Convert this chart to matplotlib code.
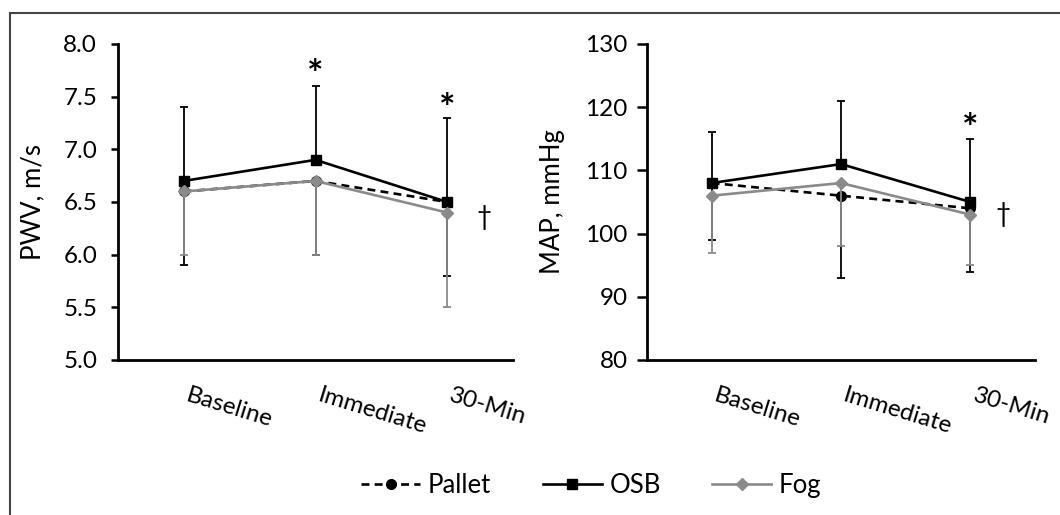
import matplotlib
matplotlib.use("Agg")
import matplotlib.pyplot as plt
from matplotlib.lines import Line2D
from matplotlib.patches import Rectangle

plt.rcParams['font.family'] = ['Lato', 'DejaVu Sans']

categories = ["Baseline", "Immediate", "30-Min"]
series = ["Pallet", "OSB", "Fog"]

# PWV, m/s
pwv_pallet = [6.6, 6.7, 6.5]
pwv_osb = [6.7, 6.9, 6.5]
pwv_fog = [6.6, 6.7, 6.4]
pwv_pallet_sd = [0.7, 0.7, 0.7]
pwv_osb_sd = [0.7, 0.7, 0.8]
pwv_fog_sd = [0.6, 0.7, 0.9]

# MAP, mmHg
map_pallet = [108, 106, 104]
map_osb = [108, 111, 105]
map_fog = [106, 108, 103]
map_pallet_sd = [9, 13, 10]
map_osb_sd = [8, 10, 10]
map_fog_sd = [9, 10, 8]

pwv_ticks = [5.0, 5.5, 6.0, 6.5, 7.0, 7.5, 8.0]
map_ticks = [80, 90, 100, 110, 120, 130]

GRAY = "#8a8a8a"
FS = 17.5

fig = plt.figure(figsize=(10.6, 5.15), dpi=100)

# outer frame (left and top edges visible)
fig.add_artist(Rectangle((10/1060, -0.1), 1.2, (515-13)/515 + 0.1,
                         transform=fig.transFigure, fill=False,
                         edgecolor="#444444", linewidth=1.5))

ax1 = fig.add_axes([118/1060, (515-360)/515, 395/1060, 316/515])
ax2 = fig.add_axes([647/1060, (515-360)/515, 388/1060, 316/515])

x = list(range(len(categories)))


def draw(ax, pallet, osb, fog, psd, osd, fsd):
    lw = 1.9
    elw = 1.3
    cs = 3.2
    # Pallet: lower error bars, black dashed line, circles
    ax.errorbar(x, pallet, yerr=[psd, [0]*3], color="black", ecolor="black",
                elinewidth=elw, capsize=cs, capthick=elw, linestyle=(0, (3, 2)),
                linewidth=lw, marker="o", markersize=7, zorder=3)
    # OSB: upper error bars, black solid line, squares
    ax.errorbar(x, osb, yerr=[[0]*3, osd], color="black", ecolor="black",
                elinewidth=elw, capsize=cs, capthick=elw, linestyle="-",
                linewidth=lw, marker="s", markersize=7, zorder=4)
    # Fog: lower error bars, gray solid line, diamonds
    ax.errorbar(x, fog, yerr=[fsd, [0]*3], color=GRAY, ecolor=GRAY,
                elinewidth=elw, capsize=cs, capthick=elw, linestyle="-",
                linewidth=lw, marker="D", markersize=6.5, zorder=5)
    ax.set_xlim(-0.5, 2.5)
    ax.set_xticks(x)
    ax.set_xticklabels(categories, rotation=-17, ha="left", va="top",
                       fontsize=FS)
    ax.tick_params(axis="x", length=0, pad=18)
    for s in ("top", "right"):
        ax.spines[s].set_visible(False)
    for s in ("left", "bottom"):
        ax.spines[s].set_linewidth(2.0)
        ax.spines[s].set_color("black")
    ax.tick_params(axis="y", direction="out", length=5, width=1.8,
                   labelsize=FS)


draw(ax1, pwv_pallet, pwv_osb, pwv_fog, pwv_pallet_sd, pwv_osb_sd, pwv_fog_sd)
ax1.set_ylim(5.0, 8.0)
ax1.set_yticks(pwv_ticks)
ax1.set_yticklabels([f"{v:.1f}" for v in pwv_ticks])
ax1.tick_params(axis="y", pad=10)
ax1.set_ylabel("PWV, m/s", fontsize=FS + 1)
ax1.yaxis.set_label_coords(-0.185, 0.5)

draw(ax2, map_pallet, map_osb, map_fog, map_pallet_sd, map_osb_sd, map_fog_sd)
ax2.set_ylim(80, 130)
ax2.set_yticks(map_ticks)
ax2.set_yticklabels([str(v) for v in map_ticks])
ax2.tick_params(axis="y", pad=7, length=7)
ax2.set_ylabel("MAP, mmHg", fontsize=FS + 1)
ax2.yaxis.set_label_coords(-0.211, 0.5)

# significance markers
star = dict(fontsize=28, ha="center", va="center", fontweight="bold")
ax1.text(1, 7.70, "*", **star)
ax1.text(2, 7.38, "*", **star)
ax1.text(2.28, 6.35, "\u2020", fontsize=19, ha="center", va="center")
ax2.text(2, 116.4, "*", **star)
ax2.text(2.25, 103, "\u2020", fontsize=19, ha="center", va="center")

handles = [
    Line2D([], [], color="black", linestyle=(0, (3, 2)), linewidth=1.9,
           marker="o", markersize=7),
    Line2D([], [], color="black", linestyle="-", linewidth=1.9,
           marker="s", markersize=7),
    Line2D([], [], color=GRAY, linestyle="-", linewidth=1.9,
           marker="D", markersize=6.5),
]
fig.legend(handles, series, loc="center", bbox_to_anchor=(0.558, 0.058),
           ncol=3, frameon=False, fontsize=FS + 1, handlelength=2.3,
           handletextpad=0.3, columnspacing=2.0)

fig.savefig("out.png", dpi=100, facecolor="white")
